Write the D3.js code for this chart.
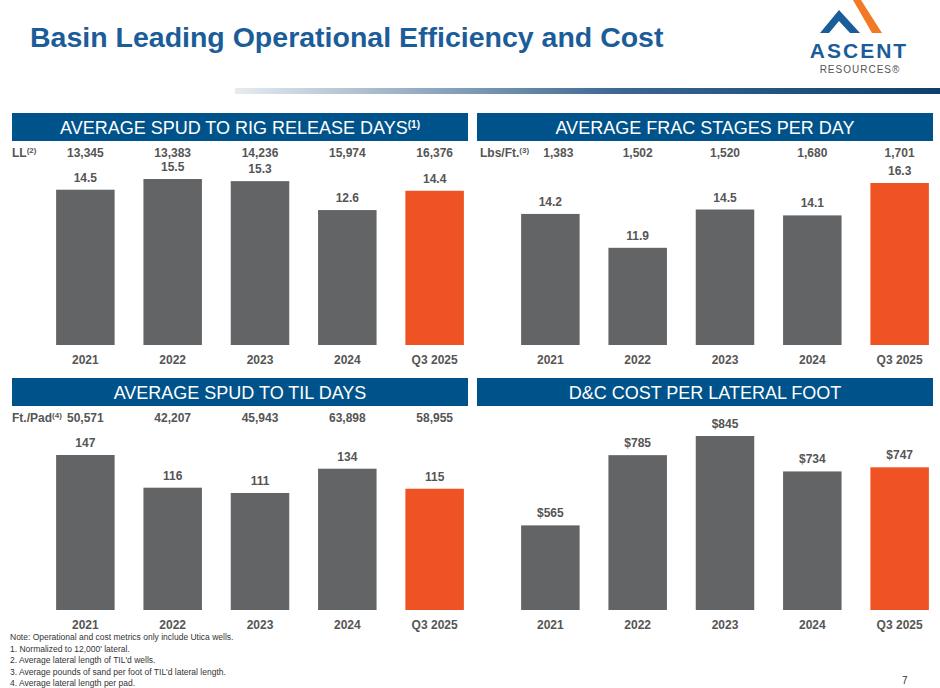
<!DOCTYPE html>
<html><head><meta charset="utf-8">
<script src="https://cdn.jsdelivr.net/npm/d3@7"></script>
<style>body{margin:0;background:#fff}text{font-family:Arial,"Liberation Sans",sans-serif}</style>
</head><body><div id="vis"></div>
<script>
const years = ["2021", "2022", "2023", "2024", "Q3 2025"]
const spudRig = [14.5, 15.5, 15.3, 12.6, 14.4]
const lateral = ["13,345", "13,383", "14,236", "15,974", "16,376"]
const fracStages = [14.2, 11.9, 14.5, 14.1, 16.3]
const lbsFt = ["1,383", "1,502", "1,520", "1,680", "1,701"]
const spudTil = [147, 116, 111, 134, 115]
const ftPad = ["50,571", "42,207", "45,943", "63,898", "58,955"]
const dcCost = [565, 785, 845, 734, 747]

const svg = d3.select("#vis").append("svg").attr("width", 940).attr("height", 688)

const grad = svg.append("defs").append("linearGradient").attr("id", "g1")
grad.append("stop").attr("offset", "0%").attr("stop-color", "#e6ebf0")
grad.append("stop").attr("offset", "55%").attr("stop-color", "#3a6690")
grad.append("stop").attr("offset", "100%").attr("stop-color", "#0f3f6e")
svg.append("rect").attr("x", 235).attr("y", 88).attr("width", 705).attr("height", 6).attr("fill", "url(#g1)")

svg.append("text").attr("x", 30).attr("y", 47).text("Basin Leading Operational Efficiency and Cost")
  .attr("font-size", 28.5).attr("font-weight", "bold").attr("fill", "#1b5d99")

// logo
const logo = svg.append("g")
logo.append("path").attr("d", "M820,33 L839,10 L860,33 L850,33 L839,21 L829,33Z").attr("fill", "#1b5d99")
logo.append("path").attr("d", "M853,0 L861,0 L882,33 L872,33Z").attr("fill", "#f07a25")
logo.append("text").attr("x", 859).attr("y", 58).attr("text-anchor", "middle").text("ASCENT")
  .attr("font-size", 21).attr("font-weight", "bold").attr("fill", "#1b5d99").attr("letter-spacing", 2)
logo.append("text").attr("x", 860).attr("y", 73).attr("text-anchor", "middle").text("RESOURCES®")
  .attr("font-size", 10).attr("fill", "#555").attr("letter-spacing", 1)

function panel(x0, y0, top, title, sup, rowLabel, rowSup, row, vals, domain, fmt) {
  const g = svg.append("g")
  g.append("rect").attr("x", x0).attr("y", y0).attr("width", 456).attr("height", 28).attr("fill", "#00538a")
  const t = g.append("text").attr("x", x0 + 228).attr("y", y0 + 20.5).attr("text-anchor", "middle")
    .attr("fill", "#fff").attr("font-size", 18).text(title)
  if (sup) t.append("tspan").attr("font-size", 10).attr("dy", -6).attr("font-weight", "bold").text(sup)

  const x = d3.scaleBand().domain(years).range([x0 + 38, x0 + 458]).paddingInner(0.33).paddingOuter(0.07)
  const base = y0 + 232
  const y = d3.scaleLinear().domain(domain).range([base, y0 + top])

  const rl = g.append("text").attr("x", x0 + (x0 > 400 ? 3 : 0)).attr("y", y0 + 44).attr("font-size", 12)
    .attr("font-weight", "bold").attr("fill", "#555").text(rowLabel)
  rl.append("tspan").attr("font-size", 8).attr("dy", -4).text(rowSup)

  g.selectAll(".row").data(row).enter().append("text")
    .attr("x", (d, i) => x(years[i]) + x.bandwidth() / 2 + (i == 0 && x0 > 400 ? 8 : 0))
    .attr("y", y0 + 44).attr("text-anchor", "middle").attr("font-size", 12).attr("font-weight", "bold")
    .attr("fill", "#555").text(d => d)

  g.selectAll("rect.bar").data(vals).enter().append("rect").attr("class", "bar")
    .attr("x", (d, i) => x(years[i])).attr("width", x.bandwidth())
    .attr("y", d => y(d)).attr("height", d => base - y(d))
    .attr("fill", (d, i) => i == 4 ? "#f05323" : "#636466")

  g.selectAll(".val").data(vals).enter().append("text")
    .attr("x", (d, i) => x(years[i]) + x.bandwidth() / 2).attr("y", d => y(d) - 8)
    .attr("text-anchor", "middle").attr("font-size", 12).attr("font-weight", "bold").attr("fill", "#555")
    .text(fmt)

  const ax = g.append("g").attr("transform", "translate(0," + base + ")")
    .call(d3.axisBottom(x).tickSize(0).tickPadding(10))
  ax.select(".domain").remove()
  ax.selectAll("text").attr("font-size", 12).attr("font-weight", "bold").attr("fill", "#555")
}

panel(12, 113, 66, "AVERAGE SPUD TO RIG RELEASE DAYS", "(1)", "LL", "(2)", lateral, spudRig, [0, 15.5], d => d.toFixed(1))
panel(477, 113, 70, "AVERAGE FRAC STAGES PER DAY", "", "Lbs/Ft.", "(3)", lbsFt, fracStages, [5.3, 16.3], d => d.toFixed(1))
panel(12, 378, 77, "AVERAGE SPUD TO TIL DAYS", "", "Ft./Pad", "(4)", ftPad, spudTil, [0, 147], d => d)
panel(477, 378, 58, "D&C COST PER LATERAL FOOT", "", "", "", ["", "", "", "", ""], dcCost, [300, 845], d => "$" + d)

const notes = ["Note: Operational and cost metrics only include Utica wells.",
  "1. Normalized to 12,000' lateral.", "2. Average lateral length of TIL'd wells.",
  "3. Average pounds of sand per foot of TIL'd lateral length.", "4. Average lateral length per pad."]
svg.selectAll(".note").data(notes).enter().append("text").attr("x", 10).attr("y", (d, i) => 640 + i * 11.5)
  .attr("font-size", 8.5).attr("fill", "#333").text(d => d)
svg.append("text").attr("x", 902).attr("y", 684).attr("font-size", 10).attr("fill", "#333").text("7")
</script></body></html>
